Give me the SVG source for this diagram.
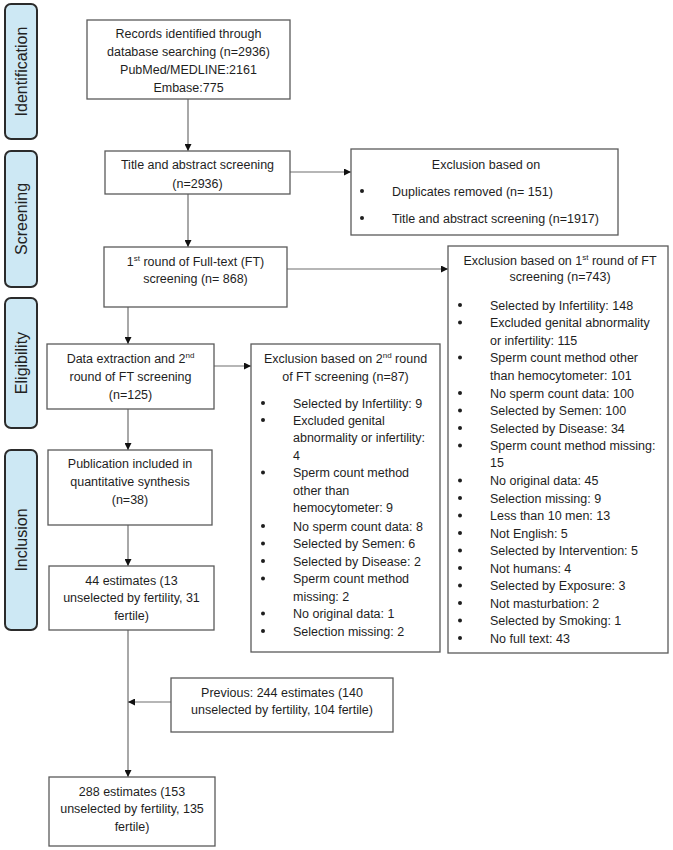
<svg xmlns="http://www.w3.org/2000/svg" width="673" height="850" viewBox="0 0 673 850">
<style>
.bg{fill:#ffffff}
.box{fill:#ffffff;stroke:#5a5a5a;stroke-width:1.3}
.phase{fill:#cde8f4;stroke:#2b2b2b;stroke-width:2}
.t{font-family:"Liberation Sans",Arial,sans-serif;font-size:12.5px;fill:#1e1e1e}
.c{text-anchor:middle}
.ph{font-family:"Liberation Sans",Arial,sans-serif;font-size:16px;fill:#222;text-anchor:middle}
.sup{font-size:8px}
.ln{stroke:#6e6e6e;stroke-width:1.2;fill:none}
.dot{fill:#1e1e1e}
</style>
<defs>
<marker id="ah" viewBox="0 0 10 10" refX="10" refY="5" markerWidth="7" markerHeight="7" markerUnits="userSpaceOnUse" orient="auto">
<path d="M0,0 L10,5 L0,10 z" fill="#111"/>
</marker>
</defs>
<rect class="bg" x="0" y="0" width="673" height="850"/>

<g id="phases">
<g id="phase-identification">
<rect class="phase" x="5" y="4" width="32" height="135" rx="6"/>
<text class="ph" transform="translate(26.5,71.5) rotate(-90)">Identification</text>
</g>
<g id="phase-screening">
<rect class="phase" x="5" y="151" width="32" height="136" rx="6"/>
<text class="ph" transform="translate(26.5,219) rotate(-90)">Screening</text>
</g>
<g id="phase-eligibility">
<rect class="phase" x="5" y="298" width="32" height="130" rx="6"/>
<text class="ph" transform="translate(26.5,363) rotate(-90)">Eligibility</text>
</g>
<g id="phase-inclusion">
<rect class="phase" x="5" y="450" width="32" height="180" rx="6"/>
<text class="ph" transform="translate(26.5,540) rotate(-90)">Inclusion</text>
</g>
</g>

<g id="connectors">
<line class="ln" x1="188" y1="99" x2="188" y2="151" marker-end="url(#ah)"/>
<line class="ln" x1="290" y1="172" x2="351" y2="172" marker-end="url(#ah)"/>
<line class="ln" x1="188" y1="194" x2="188" y2="247" marker-end="url(#ah)"/>
<line class="ln" x1="287" y1="269" x2="448" y2="269" marker-end="url(#ah)"/>
<line class="ln" x1="128" y1="307" x2="128" y2="344" marker-end="url(#ah)"/>
<line class="ln" x1="214" y1="366" x2="251" y2="366" marker-end="url(#ah)"/>
<line class="ln" x1="128" y1="409" x2="128" y2="450" marker-end="url(#ah)"/>
<line class="ln" x1="128" y1="525" x2="128" y2="566" marker-end="url(#ah)"/>
<line class="ln" x1="128" y1="630" x2="128" y2="777" marker-end="url(#ah)"/>
<line class="ln" x1="171" y1="702" x2="128" y2="702" marker-end="url(#ah)"/>
</g>

<g id="records">
<rect class="box" x="87" y="20" width="203" height="79"/>
<text class="t c" x="188.5" y="37.5">Records identified through</text>
<text class="t c" x="188.5" y="56">database searching (n=2936)</text>
<text class="t c" x="188.5" y="73.5">PubMed/MEDLINE:2161</text>
<text class="t c" x="188.5" y="91.5">Embase:775</text>
</g>

<g id="title-abstract">
<rect class="box" x="105" y="151" width="185" height="43"/>
<text class="t c" x="197.5" y="168.5">Title and abstract screening</text>
<text class="t c" x="197.5" y="187.5">(n=2936)</text>
</g>

<g id="exclusion-1">
<rect class="box" x="351" y="149" width="267" height="86"/>
<text class="t c" x="486" y="168.5">Exclusion based on</text>
<circle class="dot" cx="362" cy="191" r="2"/>
<text class="t" x="392" y="195.5">Duplicates removed (n= 151)</text>
<circle class="dot" cx="362" cy="218" r="2"/>
<text class="t" x="392" y="222.5">Title and abstract screening (n=1917)</text>
</g>

<g id="first-round">
<rect class="box" x="104" y="247" width="183" height="60"/>
<text class="t c" x="195.5" y="265.5">1<tspan class="sup" dy="-4.5">st</tspan><tspan dy="4.5"> round of Full-text (FT)</tspan></text>
<text class="t c" x="195.5" y="282.5">screening (n= 868)</text>
</g>

<g id="exclusion-first-round">
<rect class="box" x="448" y="246" width="220" height="407"/>
<text class="t c" x="560" y="264.5">Exclusion based on 1<tspan class="sup" dy="-4.5">st</tspan><tspan dy="4.5"> round of FT</tspan></text>
<text class="t c" x="560" y="281">screening (n=743)</text>
<g>
<circle class="dot" cx="460" cy="305" r="2"/><text class="t" x="490" y="309.5">Selected by Infertility: 148</text>
<circle class="dot" cx="460" cy="322.5" r="2"/><text class="t" x="490" y="327">Excluded genital abnormality</text>
<text class="t" x="490" y="344.5">or infertility: 115</text>
<circle class="dot" cx="460" cy="357.5" r="2"/><text class="t" x="490" y="362">Sperm count method other</text>
<text class="t" x="490" y="379.5">than hemocytometer: 101</text>
<circle class="dot" cx="460" cy="393" r="2"/><text class="t" x="490" y="397.5">No sperm count data: 100</text>
<circle class="dot" cx="460" cy="410.5" r="2"/><text class="t" x="490" y="415">Selected by Semen: 100</text>
<circle class="dot" cx="460" cy="428" r="2"/><text class="t" x="490" y="432.5">Selected by Disease: 34</text>
<circle class="dot" cx="460" cy="445.5" r="2"/><text class="t" x="490" y="450">Sperm count method missing:</text>
<text class="t" x="490" y="467">15</text>
<circle class="dot" cx="460" cy="480.5" r="2"/><text class="t" x="490" y="485">No original data: 45</text>
<circle class="dot" cx="460" cy="498" r="2"/><text class="t" x="490" y="502.5">Selection missing: 9</text>
<circle class="dot" cx="460" cy="515.5" r="2"/><text class="t" x="490" y="520">Less than 10 men: 13</text>
<circle class="dot" cx="460" cy="533" r="2"/><text class="t" x="490" y="537.5">Not English: 5</text>
<circle class="dot" cx="460" cy="550.5" r="2"/><text class="t" x="490" y="555">Selected by Intervention: 5</text>
<circle class="dot" cx="460" cy="568" r="2"/><text class="t" x="490" y="572.5">Not humans: 4</text>
<circle class="dot" cx="460" cy="585.5" r="2"/><text class="t" x="490" y="590">Selected by Exposure: 3</text>
<circle class="dot" cx="460" cy="603" r="2"/><text class="t" x="490" y="607.5">Not masturbation: 2</text>
<circle class="dot" cx="460" cy="620.5" r="2"/><text class="t" x="490" y="625">Selected by Smoking: 1</text>
<circle class="dot" cx="460" cy="638" r="2"/><text class="t" x="490" y="642.5">No full text: 43</text>
</g>
</g>

<g id="data-extraction">
<rect class="box" x="47" y="344" width="167" height="65"/>
<text class="t c" x="130.5" y="362.5">Data extraction and 2<tspan class="sup" dy="-4.5">nd</tspan></text>
<text class="t c" x="130.5" y="380.5">round of FT screening</text>
<text class="t c" x="130.5" y="398.5">(n=125)</text>
</g>

<g id="exclusion-second-round">
<rect class="box" x="251" y="344" width="189" height="308"/>
<text class="t c" x="345.5" y="362.5">Exclusion based on 2<tspan class="sup" dy="-4.5">nd</tspan><tspan dy="4.5"> round</tspan></text>
<text class="t c" x="345.5" y="380.5">of FT screening (n=87)</text>
<g>
<circle class="dot" cx="263" cy="403" r="2"/><text class="t" x="293" y="407.5">Selected by Infertility: 9</text>
<circle class="dot" cx="263" cy="420" r="2"/><text class="t" x="293" y="424.5">Excluded genital</text>
<text class="t" x="293" y="442">abnormality or infertility:</text>
<text class="t" x="293" y="459.5">4</text>
<circle class="dot" cx="263" cy="472.5" r="2"/><text class="t" x="293" y="477">Sperm count method</text>
<text class="t" x="293" y="494.5">other than</text>
<text class="t" x="293" y="512">hemocytometer: 9</text>
<circle class="dot" cx="263" cy="526" r="2"/><text class="t" x="293" y="530.5">No sperm count data: 8</text>
<circle class="dot" cx="263" cy="543.5" r="2"/><text class="t" x="293" y="548">Selected by Semen: 6</text>
<circle class="dot" cx="263" cy="561" r="2"/><text class="t" x="293" y="565.5">Selected by Disease: 2</text>
<circle class="dot" cx="263" cy="578.5" r="2"/><text class="t" x="293" y="583">Sperm count method</text>
<text class="t" x="293" y="600.5">missing: 2</text>
<circle class="dot" cx="263" cy="613.5" r="2"/><text class="t" x="293" y="618">No original data: 1</text>
<circle class="dot" cx="263" cy="631" r="2"/><text class="t" x="293" y="635.5">Selection missing: 2</text>
</g>
</g>

<g id="publication-included">
<rect class="box" x="48" y="450" width="164" height="75"/>
<text class="t c" x="130" y="467.5">Publication included in</text>
<text class="t c" x="130" y="485.5">quantitative synthesis</text>
<text class="t c" x="130" y="503.5">(n=38)</text>
</g>

<g id="estimates-44">
<rect class="box" x="49" y="566" width="165" height="64"/>
<text class="t c" x="131.5" y="584.5">44 estimates (13</text>
<text class="t c" x="131.5" y="601.5">unselected by fertility, 31</text>
<text class="t c" x="131.5" y="619.5">fertile)</text>
</g>

<g id="previous-estimates">
<rect class="box" x="171" y="678" width="222" height="54"/>
<text class="t c" x="282" y="696.5">Previous: 244 estimates (140</text>
<text class="t c" x="282" y="713.5">unselected by fertility, 104 fertile)</text>
</g>

<g id="estimates-288">
<rect class="box" x="49" y="777" width="166" height="69"/>
<text class="t c" x="132" y="795.5">288 estimates (153</text>
<text class="t c" x="132" y="812.5">unselected by fertility, 135</text>
<text class="t c" x="132" y="830.5">fertile)</text>
</g>
</svg>
